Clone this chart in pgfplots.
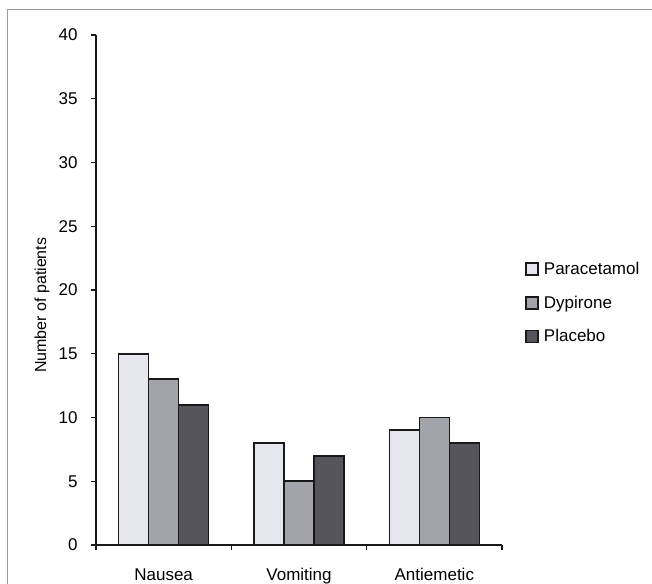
\documentclass[border=0pt]{standalone}
\usepackage{pgfplots}
\pgfplotsset{compat=1.18}
\usepackage{fontspec}
\setmainfont{Liberation Sans}

\definecolor{cpar}{RGB}{230,231,238}
\definecolor{cdyp}{RGB}{163,163,170}
\definecolor{cpla}{RGB}{85,85,91}
\definecolor{cedge}{RGB}{25,25,25}
\definecolor{cframe}{RGB}{155,155,155}

\pgfplotsset{
  sqlegend/.style={legend image code/.code={%
    \draw[##1, draw=cedge, line width=1.6bp] (0bp,-6bp) rectangle (12bp,6bp);}},
}

\begin{document}
\begin{tikzpicture}[font=\fontsize{17bp}{20bp}\selectfont]
\useasboundingbox (0,0) rectangle (652bp,584bp);
% photo frame: top and left edge of the scanned figure
\draw[cframe, line width=1.4bp] (7.5bp,0) -- (7.5bp,574.5bp) -- (652bp,574.5bp);

\begin{axis}[
  at={(96bp,39bp)}, anchor=south west,
  scale only axis, width=406bp, height=510bp,
  ybar=0pt, bar width=30bp,
  xmin=0, xmax=3, ymin=0, ymax=40,
  ytick={0,5,...,40},
  xtick={0,1,2,3}, xticklabels={},
  extra x ticks={0.5,1.5,2.5},
  extra x tick labels={Nausea,Vomiting,Antiemetic},
  extra x tick style={major tick length=0pt},
  axis lines*=left,
  axis line style={cedge, line width=1.3bp},
  tick style={cedge, line width=1.3bp},
  tick align=outside,
  major tick length=5bp,
  /pgf/number format/assume math mode=true,
  tick label style={font=\fontsize{17bp}{20bp}\selectfont},
  yticklabel style={xshift=-10bp},
  xticklabel style={yshift=-20bp},
  ylabel={Number of patients},
  every axis y label/.style={at={(axis description cs:-0.133,0.47)}, rotate=90,
    anchor=center, font=\fontsize{16bp}{19bp}\selectfont},
  legend style={draw=none, fill=none, at={(1.057,0.475)}, anchor=west,
    font=\fontsize{17bp}{20bp}\selectfont, row sep=16bp,
    inner sep=0pt, legend cell align=left,
    /tikz/every odd column/.append style={column sep=3bp}},
]
\addplot[fill=cpar, draw=cedge, line width=1.6bp, sqlegend]
  coordinates {(0.5,15) (1.5,8) (2.5,9)};
\addlegendentry{Paracetamol}
\addplot[fill=cdyp, draw=cedge, line width=1.6bp, sqlegend]
  coordinates {(0.5,13) (1.5,5) (2.5,10)};
\addlegendentry{Dypirone}
\addplot[fill=cpla, draw=cedge, line width=1.6bp, sqlegend]
  coordinates {(0.5,11) (1.5,7) (2.5,8)};
\addlegendentry{Placebo}
\end{axis}
\end{tikzpicture}
\end{document}
